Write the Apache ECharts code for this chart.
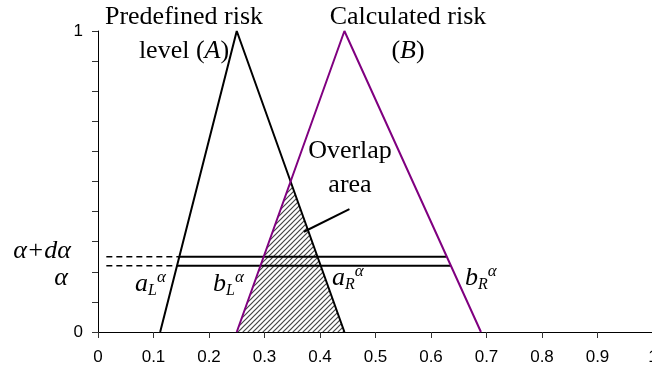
<!DOCTYPE html>
<html>
<head>
<meta charset="utf-8">
<script src="https://cdn.jsdelivr.net/npm/echarts@6/dist/echarts.min.js"></script>
<style>
  html, body { margin: 0; padding: 0; background: #fff; }
  #main { width: 652px; height: 374px; }
</style>
</head>
<body>
<div id="main"></div>
<script>
// triangular fuzzy numbers, [x, membership]
var riskA = [[0.112, 0], [0.25, 1], [0.444, 0]];
var riskB = [[0.25, 0], [0.444, 1], [0.69, 0]];
var overlapArea = [[0.25, 0], [0.347, 0.5], [0.444, 0]];
// alpha cuts: level, left end on A, right end on B
var alphaLevels = [0.22, 0.25];
var cutLeft = [0.142, 0.146];
var cutRight = [0.636, 0.628];
var dashStart = 0.015;
var pointer = [[0.453, 0.408], [0.371, 0.333]];
var yLabels = [0, 1];

var serif = '"Liberation Serif", "Times New Roman", serif';
var sans = '"Liberation Sans", Arial, sans-serif';

function hatch() {
  var c = document.createElement('canvas');
  c.width = 5; c.height = 5;
  var g = c.getContext('2d');
  g.strokeStyle = '#444';
  g.lineWidth = 1.2;
  g.beginPath();
  g.moveTo(0, 5); g.lineTo(5, 0);
  g.moveTo(-1, 1); g.lineTo(1, -1);
  g.moveTo(4, 6); g.lineTo(6, 4);
  g.stroke();
  return c;
}

function tok(size, italic) {
  return { fontFamily: serif, fontSize: size, fontStyle: italic ? 'italic' : 'normal', fill: '#000' };
}

function cutLabel(x, y, base, sub) {
  var m = tok(26, true); m.lineHeight = 30;
  var s = tok(16, true); s.verticalAlign = 'bottom';
  var p = tok(17, true); p.verticalAlign = 'top';
  return {
    type: 'text', x: x, y: y, z: 10,
    style: {
      text: '{m|' + base + '}{s|' + sub + '}{p|α}',
      rich: { m: m, s: s, p: p },
      align: 'left', verticalAlign: 'middle'
    }
  };
}

function title(x, y, text) {
  var n = tok(26, false); n.lineHeight = 34;
  var i = tok(26, true); i.lineHeight = 34;
  return {
    type: 'text', x: x, y: y, z: 10,
    style: { text: text, rich: { n: n, i: i }, align: 'center', verticalAlign: 'middle' }
  };
}

var series = [
  { type: 'line', data: overlapArea, symbol: 'none', z: 1,
    lineStyle: { width: 0 },
    areaStyle: { color: { image: hatch(), repeat: 'repeat' }, opacity: 1 } },
  { type: 'line', data: riskA, symbol: 'none', z: 3,
    lineStyle: { color: '#000', width: 2 } },
  { type: 'line', data: riskB, symbol: 'none', z: 3,
    lineStyle: { color: '#800080', width: 2 } },
  { type: 'line', data: pointer, symbol: 'none', z: 3,
    lineStyle: { color: '#000', width: 2 } }
];
alphaLevels.forEach(function (lv, i) {
  series.push({ type: 'line', symbol: 'none', z: 2,
    data: [[dashStart, lv], [cutLeft[i], lv]],
    lineStyle: { color: '#000', width: 1.6, type: [6, 4] } });
  series.push({ type: 'line', symbol: 'none', z: 2,
    data: [[cutLeft[i], lv], [cutRight[i], lv]],
    lineStyle: { color: '#000', width: 2 } });
});

var chart = echarts.init(document.getElementById('main'));
chart.setOption({
  animation: false,
  backgroundColor: '#fff',
  grid: { left: 98, right: -1, top: 31, bottom: 42, containLabel: false, outerBoundsMode: 'none' },
  xAxis: {
    type: 'value', min: 0, max: 1, interval: 0.1,
    axisLine: { lineStyle: { color: '#000', width: 1 } },
    axisTick: { length: 6, lineStyle: { color: '#333' } },
    axisLabel: { color: '#000', fontFamily: sans, fontSize: 17, margin: 17 },
    splitLine: { show: false }
  },
  yAxis: {
    type: 'value', min: 0, max: 1, interval: 0.1,
    axisLine: { show: true, lineStyle: { color: '#000', width: 1 } },
    axisTick: { show: true, length: 6, lineStyle: { color: '#333' } },
    axisLabel: {
      color: '#000', fontFamily: sans, fontSize: 17, margin: 15,
      formatter: function (v) { return yLabels.indexOf(Math.round(v * 10) / 10) >= 0 ? String(v) : ''; }
    },
    splitLine: { show: false }
  },
  series: series,
  graphic: [
    title(184, 34, '{n|Predefined risk}\n{n|level (}{i|A}{n|)}'),
    title(408, 34, '{n|Calculated risk}\n{n|(}{i|B}{n|)}'),
    title(350, 168, '{n|Overlap}\n{n|area}'),
    { type: 'text', x: 71, y: 251, z: 10,
      style: { text: 'α+dα', fontFamily: serif, fontSize: 26, fontStyle: 'italic', fill: '#000', align: 'right', verticalAlign: 'middle' } },
    { type: 'text', x: 68, y: 278, z: 10,
      style: { text: 'α', fontFamily: serif, fontSize: 26, fontStyle: 'italic', fill: '#000', align: 'right', verticalAlign: 'middle' } },
    cutLabel(135, 284, 'a', 'L'),
    cutLabel(213, 284, 'b', 'L'),
    cutLabel(332, 278, 'a', 'R'),
    cutLabel(465, 278, 'b', 'R')
  ]
});
</script>
</body>
</html>
